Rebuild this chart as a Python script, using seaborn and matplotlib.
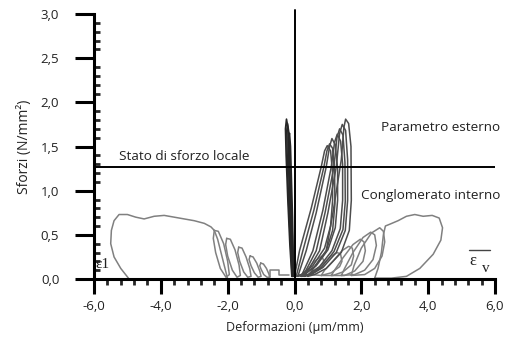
import matplotlib
matplotlib.use("Agg")
import matplotlib.pyplot as plt
import matplotlib.ticker as mticker
import seaborn as sns
import pandas as pd

# ---- data: loops (strain, stress) ----
left_big = [(-4.95, 0.0), (-5.2, 0.12), (-5.4, 0.25), (-5.5, 0.40), (-5.48, 0.55), (-5.4, 0.66),
            (-5.25, 0.73), (-5.0, 0.73), (-4.75, 0.70), (-4.5, 0.68), (-4.2, 0.71), (-3.9, 0.72),
            (-3.6, 0.70), (-3.3, 0.68), (-3.0, 0.66), (-2.7, 0.63), (-2.5, 0.59), (-2.4, 0.55),
            (-2.3, 0.45), (-2.2, 0.3), (-2.1, 0.15), (-2.0, 0.0), (-3.0, 0.0), (-4.95, 0.0)]
left_l1 = [(-2.4, 0.55), (-2.28, 0.54), (-2.12, 0.4), (-2.0, 0.2), (-1.95, 0.05), (-2.05, 0.02),
           (-2.22, 0.12), (-2.36, 0.3), (-2.43, 0.46), (-2.4, 0.55)]
left_l2 = [(-2.03, 0.46), (-1.92, 0.45), (-1.78, 0.33), (-1.66, 0.16), (-1.62, 0.04), (-1.72, 0.02),
           (-1.86, 0.1), (-2.0, 0.26), (-2.06, 0.39), (-2.03, 0.46)]
left_l3 = [(-1.67, 0.36), (-1.57, 0.35), (-1.45, 0.25), (-1.34, 0.12), (-1.3, 0.03), (-1.4, 0.02),
           (-1.52, 0.08), (-1.64, 0.2), (-1.7, 0.3), (-1.67, 0.36)]
left_l4 = [(-1.33, 0.26), (-1.24, 0.25), (-1.13, 0.18), (-1.04, 0.09), (-1.0, 0.03), (-1.09, 0.02),
           (-1.2, 0.07), (-1.3, 0.15), (-1.36, 0.22), (-1.33, 0.26)]
left_l5 = [(-1.01, 0.18), (-0.93, 0.17), (-0.84, 0.12), (-0.77, 0.06), (-0.74, 0.02), (-0.82, 0.02),
           (-0.92, 0.05), (-1.0, 0.11), (-1.04, 0.15), (-1.01, 0.18)]
left_step = [(-0.72, 0.02), (-0.72, 0.1), (-0.45, 0.1), (-0.45, 0.05), (-0.15, 0.05)]

centre_c1 = [(-0.08, 0.03), (-0.14, 0.4), (-0.2, 0.9), (-0.25, 1.4), (-0.27, 1.7), (-0.24, 1.81),
             (-0.2, 1.72), (-0.16, 1.3), (-0.11, 0.8), (-0.07, 0.3), (-0.05, 0.03)]
centre_c2 = [(-0.07, 0.03), (-0.12, 0.4), (-0.18, 0.9), (-0.22, 1.4), (-0.23, 1.68), (-0.21, 1.76),
             (-0.17, 1.66), (-0.13, 1.25), (-0.09, 0.8), (-0.05, 0.3), (-0.03, 0.03)]
centre_c3 = [(-0.06, 0.03), (-0.1, 0.4), (-0.15, 0.9), (-0.18, 1.35), (-0.18, 1.6), (-0.15, 1.65),
             (-0.12, 1.5), (-0.09, 1.1), (-0.06, 0.7), (-0.04, 0.3), (-0.02, 0.03)]

right_t1 = [(0.0, 0.03), (0.15, 0.32), (0.5, 0.8), (0.8, 1.27), (0.9, 1.45), (0.98, 1.51), (1.08, 1.45),
            (1.14, 1.2), (1.14, 0.89), (1.08, 0.6), (0.9, 0.35), (0.55, 0.15), (0.2, 0.05), (0.0, 0.03)]
right_t2 = [(0.1, 0.03), (0.35, 0.32), (0.65, 0.75), (0.95, 1.27), (1.05, 1.5), (1.12, 1.59), (1.22, 1.52),
            (1.29, 1.25), (1.29, 0.89), (1.22, 0.58), (1.0, 0.33), (0.65, 0.15), (0.3, 0.05), (0.1, 0.03)]
right_t3 = [(0.2, 0.03), (0.55, 0.32), (0.85, 0.78), (1.1, 1.27), (1.2, 1.55), (1.28, 1.64), (1.38, 1.56),
            (1.44, 1.3), (1.44, 0.89), (1.37, 0.57), (1.12, 0.32), (0.75, 0.14), (0.4, 0.05), (0.2, 0.03)]
right_t4 = [(0.3, 0.03), (0.75, 0.32), (1.0, 0.75), (1.25, 1.27), (1.35, 1.65), (1.43, 1.75), (1.53, 1.68),
            (1.59, 1.35), (1.59, 0.89), (1.52, 0.55), (1.25, 0.3), (0.85, 0.13), (0.5, 0.05), (0.3, 0.03)]
right_t5 = [(0.4, 0.03), (0.95, 0.32), (1.15, 0.75), (1.4, 1.35), (1.48, 1.72), (1.53, 1.81), (1.62, 1.76),
            (1.69, 1.5), (1.70, 0.89), (1.64, 0.55), (1.4, 0.3), (0.95, 0.12), (0.6, 0.05), (0.4, 0.03)]
right_t6 = [(0.05, 0.03), (0.25, 0.32), (0.58, 0.78), (0.88, 1.27), (0.97, 1.45), (1.05, 1.53), (1.14, 1.48),
            (1.2, 1.2), (1.21, 0.85), (1.14, 0.55), (0.95, 0.32), (0.6, 0.14), (0.25, 0.05), (0.05, 0.03)]
right_t7 = [(0.25, 0.03), (0.65, 0.32), (0.92, 0.76), (1.18, 1.27), (1.27, 1.6), (1.35, 1.7), (1.45, 1.63),
            (1.51, 1.32), (1.52, 0.88), (1.45, 0.56), (1.18, 0.31), (0.8, 0.13), (0.45, 0.05), (0.25, 0.03)]

right_r0 = [(0.2, 0.03), (0.5, 0.05), (0.75, 0.12), (0.88, 0.2), (0.82, 0.26), (0.6, 0.2), (0.35, 0.09), (0.2, 0.03)]
right_r1 = [(0.5, 0.05), (0.8, 0.04), (1.1, 0.07), (1.35, 0.14), (1.42, 0.2), (1.38, 0.28), (1.28, 0.30),
            (1.1, 0.26), (0.85, 0.17), (0.6, 0.09), (0.5, 0.05)]
right_r2 = [(0.8, 0.04), (1.15, 0.04), (1.45, 0.08), (1.7, 0.16), (1.77, 0.26), (1.73, 0.35), (1.62, 0.37),
            (1.42, 0.32), (1.15, 0.2), (0.9, 0.1), (0.8, 0.04)]
right_r3 = [(1.1, 0.04), (1.5, 0.04), (1.8, 0.09), (2.05, 0.2), (2.12, 0.32), (2.08, 0.42), (1.97, 0.45),
            (1.75, 0.39), (1.45, 0.24), (1.2, 0.1), (1.1, 0.04)]
right_r4 = [(1.4, 0.04), (1.8, 0.05), (2.1, 0.1), (2.35, 0.22), (2.45, 0.38), (2.4, 0.5), (2.28, 0.53),
            (2.05, 0.47), (1.75, 0.3), (1.5, 0.12), (1.4, 0.04)]
right_r5 = [(1.7, 0.04), (2.1, 0.05), (2.4, 0.12), (2.62, 0.26), (2.7, 0.42), (2.66, 0.54), (2.55, 0.58),
            (2.3, 0.52), (2.0, 0.35), (1.78, 0.15), (1.7, 0.04)]
right_big = [(2.4, 0.01), (2.9, 0.01), (3.35, 0.03), (3.75, 0.12), (4.15, 0.28), (4.38, 0.44), (4.43, 0.58),
             (4.33, 0.69), (4.12, 0.72), (3.85, 0.71), (3.6, 0.73), (3.35, 0.71), (3.1, 0.66), (2.85, 0.62),
             (2.72, 0.6), (2.66, 0.5), (2.6, 0.3), (2.5, 0.12), (2.4, 0.01)]

local_stress = 1.27
x_ticks = [-6.0, -4.0, -2.0, 0.0, 2.0, 4.0, 6.0]
y_ticks = [0.0, 0.5, 1.0, 1.5, 2.0, 2.5, 3.0]

light_loops = {"left_big": left_big, "left_l1": left_l1, "left_l2": left_l2, "left_l3": left_l3,
               "left_l4": left_l4, "left_l5": left_l5, "left_step": left_step,
               "right_r0": right_r0, "right_r1": right_r1, "right_r2": right_r2, "right_r3": right_r3,
               "right_r4": right_r4, "right_r5": right_r5, "right_big": right_big}
mid_loops = {"right_t1": right_t1, "right_t2": right_t2, "right_t3": right_t3,
             "right_t4": right_t4, "right_t5": right_t5, "right_t6": right_t6, "right_t7": right_t7}
dark_loops = {"centre_c1": centre_c1, "centre_c2": centre_c2, "centre_c3": centre_c3}


def to_frame(loops):
    rows = []
    for name, pts in loops.items():
        for i, (x, y) in enumerate(pts):
            rows.append({"loop": name, "order": i, "x": x, "y": y})
    return pd.DataFrame(rows)


sns.set_style("white")
plt.rcParams["font.family"] = ["Open Sans", "DejaVu Sans"]

fig = plt.figure(figsize=(5.12, 3.57), dpi=100)
ax = fig.add_axes([94 / 512, (357 - 279) / 357, 401 / 512, 265 / 357])

for loops, col, lw in [(light_loops, "0.5", 1.1), (mid_loops, "0.3", 1.1), (dark_loops, "0.15", 1.2)]:
    sns.lineplot(data=to_frame(loops), x="x", y="y", units="loop", estimator=None, sort=False,
                 color=col, lw=lw, ax=ax, legend=False)

ax.plot([0, 0], [0, 3.04], color="black", lw=1.4, clip_on=False)
ax.axhline(local_stress, xmin=0, xmax=1, color="black", lw=1.4)

ax.set_xlim(-6, 6)
ax.set_ylim(0, 3)
ax.set_xticks(x_ticks)
ax.set_yticks(y_ticks)
ax.xaxis.set_minor_locator(mticker.MultipleLocator(0.4))
ax.yaxis.set_minor_locator(mticker.MultipleLocator(0.1))
fmt = mticker.FuncFormatter(lambda v, p: f"{v:.1f}".replace(".", ","))
ax.xaxis.set_major_formatter(fmt)
ax.yaxis.set_major_formatter(fmt)

for s in ["top", "right"]:
    ax.spines[s].set_visible(False)
for s in ["left", "bottom"]:
    ax.spines[s].set_linewidth(2.2)
    ax.spines[s].set_color("black")

ax.tick_params(axis="x", which="major", direction="out", length=11, width=2.2, pad=4,
               labelsize=9.5, colors="black", bottom=True)
ax.tick_params(axis="x", which="minor", direction="out", length=4, width=2.0, bottom=True)
ax.tick_params(axis="y", which="major", direction="out", length=14, width=2.2, pad=11,
               labelsize=9.5, colors="black", left=True)
ax.tick_params(axis="y", which="minor", direction="in", length=4, width=2.0, left=True)
for lab in ax.get_xticklabels() + ax.get_yticklabels():
    lab.set_color("#222222")

ax.set_xlabel("Deformazioni (μm/mm)", fontsize=9, color="#222222", labelpad=6)
ax.set_ylabel("Sforzi (N/mm²)", fontsize=10, color="#222222", labelpad=6)

ax.text(-1.35, 1.385, "Stato di sforzo locale", fontsize=9.7, color="#222222", va="center", ha="right")
ax.text(6.15, 1.71, "Parametro esterno", fontsize=9.7, color="#222222", va="center", ha="right")
ax.text(6.15, 0.95, "Conglomerato interno", fontsize=9.7, color="#222222", va="center", ha="right")
ax.text(-5.95, 0.16, "ε1", fontsize=11, family=["Liberation Serif", "DejaVu Serif"], color="#222222",
        va="center", ha="left")
ax.text(5.24, 0.2, "ε", fontsize=12, family=["Liberation Serif", "DejaVu Serif"], color="#222222",
        va="center", ha="left")
ax.text(5.6, 0.12, "v", fontsize=11, family=["Liberation Serif", "DejaVu Serif"], color="#222222",
        va="center", ha="left")
ax.plot([5.22, 5.85], [0.33, 0.33], color="#444444", lw=1.0)

ax.set_facecolor("white")
fig.patch.set_facecolor("white")
fig.savefig("out.png", dpi=100, facecolor="white")
